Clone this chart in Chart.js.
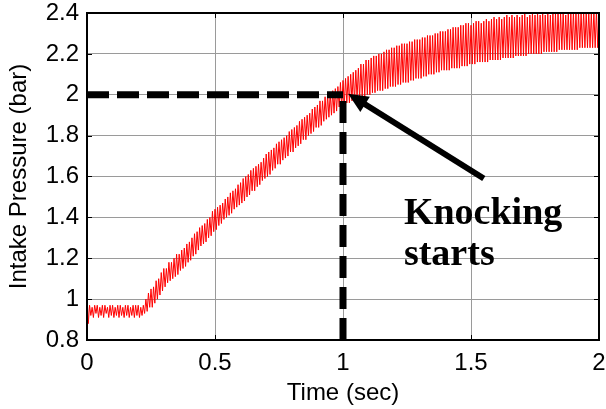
<!DOCTYPE html>
<html>
<head>
<meta charset="utf-8">
<script src="https://cdn.jsdelivr.net/npm/chart.js@4"></script>
<style>
  html, body { margin: 0; padding: 0; background: #fff; }
  #wrap { width: 606px; height: 409px; }
</style>
</head>
<body>
<div id="wrap"><canvas id="chart" width="606" height="409"></canvas></div>
<script>
// intake pressure samples, one every 5 ms from 0 to 2 s
const sampleStep = 0.005;
const pressure = [
  1.02, 0.88, 0.97, 0.92, 0.96, 0.91, 0.97, 0.93, 0.97, 0.91,
  0.96, 0.92, 0.97, 0.91, 0.97, 0.93, 0.96, 0.91, 0.97, 0.92,
  0.97, 0.91, 0.96, 0.92, 0.97, 0.91, 0.97, 0.92, 0.96, 0.91,
  0.97, 0.92, 0.97, 0.91, 0.96, 0.92, 0.97, 0.91, 0.97, 0.92,
  0.97, 0.91, 0.96, 0.92, 0.97, 0.93, 1.00, 0.94, 1.03, 0.96,
  1.05, 0.96, 1.06, 0.98, 1.09, 1.00, 1.10, 1.02, 1.13, 1.04,
  1.15, 1.06, 1.15, 1.08, 1.18, 1.09, 1.18, 1.10, 1.20, 1.11,
  1.22, 1.12, 1.22, 1.14, 1.24, 1.15, 1.25, 1.16, 1.27, 1.18,
  1.28, 1.19, 1.30, 1.21, 1.32, 1.22, 1.33, 1.24, 1.35, 1.26,
  1.36, 1.27, 1.37, 1.28, 1.39, 1.30, 1.40, 1.31, 1.43, 1.33,
  1.44, 1.34, 1.45, 1.36, 1.46, 1.37, 1.47, 1.39, 1.49, 1.40,
  1.50, 1.41, 1.52, 1.42, 1.53, 1.44, 1.54, 1.45, 1.56, 1.46,
  1.57, 1.47, 1.59, 1.48, 1.60, 1.50, 1.61, 1.51, 1.63, 1.53,
  1.64, 1.53, 1.65, 1.55, 1.66, 1.56, 1.67, 1.58, 1.69, 1.59,
  1.71, 1.60, 1.72, 1.61, 1.73, 1.63, 1.74, 1.64, 1.76, 1.66,
  1.77, 1.66, 1.78, 1.68, 1.79, 1.69, 1.80, 1.70, 1.82, 1.72,
  1.83, 1.72, 1.84, 1.74, 1.85, 1.75, 1.87, 1.76, 1.88, 1.78,
  1.89, 1.78, 1.90, 1.80, 1.91, 1.81, 1.93, 1.82, 1.94, 1.84,
  1.95, 1.84, 1.97, 1.85, 1.97, 1.87, 1.99, 1.88, 2.00, 1.89,
  2.01, 1.90, 2.02, 1.91, 2.03, 1.92, 2.04, 1.94, 2.06, 1.94,
  2.07, 1.95, 2.08, 1.96, 2.09, 1.96, 2.10, 1.97, 2.11, 1.97,
  2.12, 1.98, 2.13, 1.98, 2.15, 1.99, 2.15, 1.99, 2.17, 2.00,
  2.17, 2.00, 2.18, 2.01, 2.19, 2.01, 2.19, 2.02, 2.20, 2.02,
  2.20, 2.02, 2.21, 2.03, 2.22, 2.03, 2.22, 2.04, 2.23, 2.04,
  2.23, 2.04, 2.24, 2.05, 2.24, 2.05, 2.25, 2.06, 2.25, 2.06,
  2.25, 2.06, 2.26, 2.07, 2.26, 2.07, 2.27, 2.08, 2.27, 2.08,
  2.27, 2.08, 2.28, 2.09, 2.28, 2.09, 2.29, 2.10, 2.29, 2.10,
  2.29, 2.10, 2.30, 2.11, 2.30, 2.11, 2.31, 2.12, 2.31, 2.12,
  2.31, 2.12, 2.32, 2.12, 2.32, 2.13, 2.33, 2.13, 2.33, 2.13,
  2.33, 2.13, 2.34, 2.14, 2.34, 2.14, 2.35, 2.14, 2.35, 2.15,
  2.34, 2.15, 2.35, 2.15, 2.36, 2.16, 2.36, 2.16, 2.35, 2.16,
  2.36, 2.16, 2.37, 2.16, 2.36, 2.17, 2.37, 2.17, 2.38, 2.17,
  2.37, 2.17, 2.38, 2.17, 2.37, 2.18, 2.38, 2.18, 2.39, 2.18,
  2.38, 2.18, 2.39, 2.18, 2.38, 2.19, 2.39, 2.19, 2.38, 2.19,
  2.39, 2.19, 2.40, 2.19, 2.38, 2.20, 2.39, 2.20, 2.40, 2.20,
  2.39, 2.20, 2.40, 2.20, 2.39, 2.20, 2.41, 2.21, 2.39, 2.21,
  2.40, 2.21, 2.39, 2.21, 2.41, 2.21, 2.40, 2.21, 2.41, 2.22,
  2.40, 2.22, 2.41, 2.22, 2.39, 2.22, 2.41, 2.22, 2.40, 2.22,
  2.41, 2.22, 2.40, 2.22, 2.41, 2.23, 2.40, 2.23, 2.41, 2.23,
  2.40, 2.23, 2.41, 2.23, 2.40, 2.23, 2.41, 2.23, 2.41, 2.23,
  2.41
];

// knock onset
const knockTime = 1;
const knockPressure = 2;

const xTicks = [0, 0.5, 1, 1.5, 2];
const xTickLabels = ['0', '0.5', '1', '1.5', '2'];
const yTicks = [0.8, 1, 1.2, 1.4, 1.6, 1.8, 2, 2.2, 2.4];
const yTickLabels = ['0.8', '1', '1.2', '1.4', '1.6', '1.8', '2', '2.2', '2.4'];

const noteLines = ['Knocking', 'starts'];
const noteAt = [1.238, 1.37, 1.166];   // x, baseline of line 1, baseline of line 2
const arrowFrom = [1.55, 1.59];
const arrowTo = [1.02, 2.005];

const pressurePoints = pressure.map((p, i) => ({ x: i * sampleStep, y: p }));

const sans = '"Liberation Sans", Arial, sans-serif';

// box, inward tick marks, arrow and note text
const overlay = {
  id: 'overlay',
  afterDatasetsDraw(chart) {
    const { ctx, chartArea: a, scales: { x, y } } = chart;
    ctx.save();

    ctx.strokeStyle = '#000';
    ctx.lineWidth = 1;
    ctx.beginPath();
    xTicks.forEach(v => {
      const px = Math.round(x.getPixelForValue(v)) + 0.5;
      ctx.moveTo(px, a.bottom); ctx.lineTo(px, a.bottom - 5);
      ctx.moveTo(px, a.top); ctx.lineTo(px, a.top + 5);
    });
    yTicks.forEach(v => {
      const py = Math.round(y.getPixelForValue(v)) + 0.5;
      ctx.moveTo(a.left, py); ctx.lineTo(a.left + 5, py);
      ctx.moveTo(a.right, py); ctx.lineTo(a.right - 5, py);
    });
    ctx.stroke();

    ctx.lineWidth = 2;
    ctx.strokeRect(a.left, a.top, a.right - a.left, a.bottom - a.top);

    // arrow
    const x0 = x.getPixelForValue(arrowFrom[0]), y0 = y.getPixelForValue(arrowFrom[1]);
    const x1 = x.getPixelForValue(arrowTo[0]), y1 = y.getPixelForValue(arrowTo[1]);
    const ang = Math.atan2(y1 - y0, x1 - x0);
    const headLen = 20, headHalf = 9;
    const bx = x1 - headLen * Math.cos(ang), by = y1 - headLen * Math.sin(ang);
    ctx.lineWidth = 6;
    ctx.lineCap = 'butt';
    ctx.beginPath();
    ctx.moveTo(x0, y0);
    ctx.lineTo(bx + 2 * Math.cos(ang), by + 2 * Math.sin(ang));
    ctx.stroke();
    ctx.fillStyle = '#000';
    ctx.beginPath();
    ctx.moveTo(x1, y1);
    ctx.lineTo(bx - headHalf * Math.sin(ang), by + headHalf * Math.cos(ang));
    ctx.lineTo(bx + headHalf * Math.sin(ang), by - headHalf * Math.cos(ang));
    ctx.closePath();
    ctx.fill();

    // note
    ctx.font = 'bold 38px "Liberation Serif", "Times New Roman", serif';
    ctx.textAlign = 'left';
    ctx.textBaseline = 'alphabetic';
    const nx = x.getPixelForValue(noteAt[0]);
    ctx.fillText(noteLines[0], nx, y.getPixelForValue(noteAt[1]));
    ctx.fillText(noteLines[1], nx, y.getPixelForValue(noteAt[2]));

    ctx.restore();
  }
};

new Chart(document.getElementById('chart'), {
  type: 'line',
  data: {
    datasets: [
      {
        data: [{ x: 0, y: knockPressure }, { x: knockTime, y: knockPressure }],
        borderColor: '#000',
        borderWidth: 7,
        borderDash: [22, 8],
        borderCapStyle: 'butt',
        pointRadius: 0
      },
      {
        data: [{ x: knockTime, y: 0.8 }, { x: knockTime, y: knockPressure }],
        borderColor: '#000',
        borderWidth: 7,
        borderDash: [22, 9],
        borderCapStyle: 'butt',
        pointRadius: 0
      },
      {
        data: pressurePoints,
        borderColor: '#ff0000',
        borderWidth: 1,
        pointRadius: 0,
        tension: 0
      }
    ]
  },
  options: {
    responsive: false,
    devicePixelRatio: 1,
    animation: false,
    layout: { padding: { top: 13, right: 7, left: 0, bottom: 0 } },
    plugins: { legend: { display: false }, tooltip: { enabled: false } },
    scales: {
      x: {
        type: 'linear',
        min: 0,
        max: 2,
        afterBuildTicks: s => { s.ticks = xTicks.map(v => ({ value: v })); },
        afterFit: s => { s.height = 69; s.paddingLeft = 0; s.paddingRight = 0; },
        ticks: {
          callback: v => xTickLabels[xTicks.indexOf(v)],
          font: { family: sans, size: 24 },
          color: '#000',
          padding: 9,
          maxRotation: 0
        },
        grid: { color: '#9a9a9a', lineWidth: 1, drawTicks: false },
        border: { display: false },
        title: {
          display: true,
          text: 'Time (sec)',
          font: { family: sans, size: 24 },
          color: '#000',
          padding: { top: 0, bottom: 1 }
        }
      },
      y: {
        type: 'linear',
        min: 0.8,
        max: 2.4,
        afterBuildTicks: s => { s.ticks = yTicks.map(v => ({ value: v })); },
        afterFit: s => { s.width = 87; s.paddingTop = 0; s.paddingBottom = 0; },
        ticks: {
          callback: v => yTickLabels[yTicks.indexOf(v)],
          font: { family: sans, size: 24 },
          color: '#000',
          padding: 8
        },
        grid: { color: '#9a9a9a', lineWidth: 1, drawTicks: false },
        border: { display: false },
        title: {
          display: true,
          text: 'Intake Pressure (bar)',
          font: { family: sans, size: 24 },
          color: '#000',
          padding: { top: 5, bottom: 0 }
        }
      }
    }
  },
  plugins: [overlay]
});
</script>
</body>
</html>
